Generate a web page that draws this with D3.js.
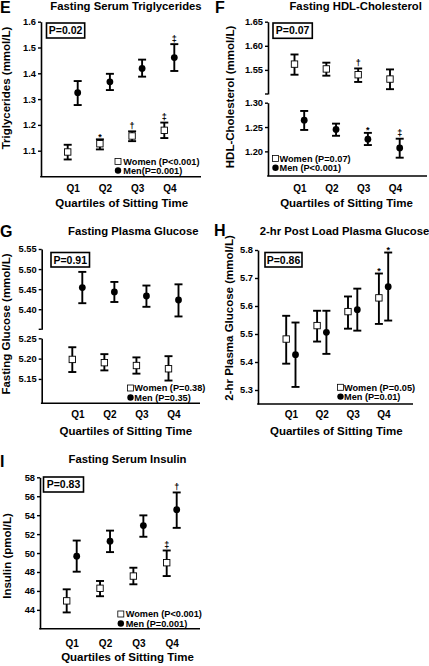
<!DOCTYPE html>
<html><head><meta charset="utf-8">
<script src="https://cdn.jsdelivr.net/npm/d3@7"></script>
<style>
html,body{margin:0;padding:0;background:#fff;}
svg{display:block;font-family:"Liberation Sans",Arial,Helvetica,sans-serif;font-weight:bold;}
</style></head>
<body><svg id="chart" width="429" height="666"></svg>
<script>
const quartiles = ["Q1","Q2","Q3","Q4"];
const xTitle = "Quartiles of Sitting Time";

// E: Fasting Serum Triglycerides
const tgWomen   = [1.095, 1.127, 1.157, 1.179];
const tgWomenLo = [1.066, 1.105, 1.137, 1.149];
const tgWomenHi = [1.123, 1.144, 1.175, 1.209];
const tgMen     = [1.325, 1.367, 1.419, 1.461];
const tgMenLo   = [1.277, 1.335, 1.387, 1.409];
const tgMenHi   = [1.370, 1.398, 1.453, 1.513];
const tgWomenSig = ["", "*", "†", "‡"];
const tgMenSig   = ["", "", "", "‡"];
const tgTicks = [1.1, 1.2, 1.3, 1.4, 1.5, 1.6];

// F: Fasting HDL-Cholesterol
const hdlWomen   = [1.562, 1.552, 1.540, 1.531];
const hdlWomenLo = [1.540, 1.538, 1.525, 1.510];
const hdlWomenHi = [1.582, 1.565, 1.553, 1.551];
const hdlMen     = [1.264, 1.245, 1.225, 1.207];
const hdlMenLo   = [1.244, 1.232, 1.213, 1.187];
const hdlMenHi   = [1.283, 1.257, 1.238, 1.226];
const hdlWomenSig = ["", "", "†", ""];
const hdlMenSig   = ["", "", "*", "‡"];
const hdlUpperTicks = [1.55, 1.60, 1.65];
const hdlLowerTicks = [1.20, 1.25, 1.30];

// G: Fasting Plasma Glucose
const glcWomen   = [5.198, 5.190, 5.183, 5.175];
const glcWomenLo = [5.167, 5.171, 5.163, 5.146];
const glcWomenHi = [5.228, 5.211, 5.203, 5.206];
const glcMen     = [5.454, 5.443, 5.433, 5.423];
const glcMenLo   = [5.415, 5.418, 5.406, 5.382];
const glcMenHi   = [5.493, 5.468, 5.459, 5.462];
const glcUpperTicks = [5.40, 5.45, 5.50, 5.55];
const glcLowerTicks = [5.15, 5.20, 5.25];

// H: 2-hr Post Load Plasma Glucose
const pgWomen   = [5.482, 5.530, 5.580, 5.629];
const pgWomenLo = [5.394, 5.473, 5.519, 5.536];
const pgWomenHi = [5.565, 5.583, 5.634, 5.716];
const pgMen     = [5.426, 5.506, 5.587, 5.669];
const pgMenLo   = [5.311, 5.429, 5.512, 5.548];
const pgMenHi   = [5.541, 5.583, 5.662, 5.791];
const pgWomenSig = ["", "", "", "*"];
const pgMenSig   = ["", "", "", "*"];
const pgTicks = [5.3, 5.4, 5.5, 5.6, 5.7, 5.8];

// I: Fasting Serum Insulin
const insWomen   = [44.95, 46.28, 47.57, 48.98];
const insWomenLo = [43.73, 45.44, 46.70, 47.57];
const insWomenHi = [46.17, 47.05, 48.45, 50.27];
const insMen     = [49.67, 51.25, 52.90, 54.58];
const insMenLo   = [48.03, 50.10, 51.72, 52.66];
const insMenHi   = [51.32, 52.37, 53.98, 56.40];
const insWomenSig = ["", "", "", "‡"];
const insMenSig   = ["", "", "", "†"];
const insTicks = [44, 46, 48, 50, 52, 54, 56, 58];

const none4 = ["", "", "", ""];

const panels = [
  { letter:"E", lx:0, ly:12.5, title:"Fasting Serum Triglycerides", tx:126, ty:10,
    yTitle:"Triglycerides (mmol/L)", ytx:10, yty:88,
    axisX:41, rightX:201, baseY:176.8, xRange:[72.7,169.3], qY:191.5, xtY:206.7, xtX:121.7,
    segs:[{domain:[1.0,1.6], range:[176.5,21.7], ticks:tgTicks, fmt:".1f"}],
    pText:"P=0.02", pBox:[46.5,23,38.2,15],
    legend:{x:118, y1:161.5, y2:170.5, tx:123.3, women:"Women (P<0.001)", men:"Men(P=0.001)"},
    series:[
      {v:tgWomen, lo:tgWomenLo, hi:tgWomenHi, sig:tgWomenSig, seg:0, dx:-5, shape:"sq"},
      {v:tgMen, lo:tgMenLo, hi:tgMenHi, sig:tgMenSig, seg:0, dx:5, shape:"ci"}]},
  { letter:"F", lx:215, ly:12.5, title:"Fasting HDL-Cholesterol", tx:355.7, ty:10,
    yTitle:"HDL-Cholesterol (mmol/L)", ytx:234, yty:97,
    axisX:268, rightX:427, baseY:176, xRange:[299.5,395], qY:191.5, xtY:206.7, xtX:346.5,
    segs:[{domain:[1.50,1.65], range:[94,21.7], ticks:hdlUpperTicks, fmt:".2f", brk:true},
          {domain:[1.15,1.30], range:[175.7,102.7], ticks:hdlLowerTicks, fmt:".2f"}],
    pText:"P=0.07", pBox:[273,23,39.3,15.3],
    legend:{x:275.5, y1:158.5, y2:167.8, tx:279.5, women:"Women (P=0.07)", men:"Men (P<0.001)"},
    series:[
      {v:hdlWomen, lo:hdlWomenLo, hi:hdlWomenHi, sig:hdlWomenSig, seg:0, dx:-5, shape:"sq"},
      {v:hdlMen, lo:hdlMenLo, hi:hdlMenHi, sig:hdlMenSig, seg:1, dx:4.7, shape:"ci"}]},
  { letter:"G", lx:0, ly:237, title:"Fasting Plasma Glucose", tx:133.3, ty:235,
    yTitle:"Fasting Glucose (mmol/L)", ytx:10, yty:324,
    axisX:41.7, rightX:200, baseY:403.3, xRange:[77.3,173.5], qY:418, xtY:435, xtX:125.8,
    segs:[{domain:[5.35,5.55], range:[329.3,249], ticks:glcUpperTicks, fmt:".2f", brk:true},
          {domain:[5.09,5.25], range:[403.3,338.3], ticks:glcLowerTicks, fmt:".2f"}],
    pText:"P=0.91", pBox:[51,252.5,38.5,14.5],
    legend:{x:130.5, y1:388, y2:397.5, tx:134.3, women:"Women (P=0.38)", men:"Men (P=0.35)"},
    series:[
      {v:glcWomen, lo:glcWomenLo, hi:glcWomenHi, sig:none4, seg:1, dx:-5, shape:"sq"},
      {v:glcMen, lo:glcMenLo, hi:glcMenHi, sig:none4, seg:0, dx:5, shape:"ci"}]},
  { letter:"H", lx:214, ly:236, title:"2-hr Post Load Plasma Glucose", tx:344.5, ty:235,
    yTitle:"2-hr Plasma Glucose (mmol/L)", ytx:232.5, yty:318,
    axisX:258, rightX:413, baseY:404, xRange:[290.8,383.5], qY:417.8, xtY:434.5, xtX:336.3,
    segs:[{domain:[5.25,5.8], range:[404,250], ticks:pgTicks, fmt:".1f"}],
    pText:"P=0.86", pBox:[265,252.5,37,14.5],
    legend:{x:340.5, y1:387.3, y2:396.6, tx:344, women:"Women (P=0.05)", men:"Men (P=0.01)"},
    series:[
      {v:pgWomen, lo:pgWomenLo, hi:pgWomenHi, sig:pgWomenSig, seg:0, dx:-4.6, shape:"sq"},
      {v:pgMen, lo:pgMenLo, hi:pgMenHi, sig:pgMenSig, seg:0, dx:4.7, shape:"ci"}]},
  { letter:"I", lx:0, ly:467, title:"Fasting Serum Insulin", tx:127.5, ty:463,
    yTitle:"Insulin (pmol/L)", ytx:11, yty:556,
    axisX:40, rightX:200, baseY:628.8, xRange:[71.7,171.7], qY:646.5, xtY:661, xtX:127.5,
    segs:[{domain:[42,58], range:[628.8,477.3], ticks:insTicks, fmt:"d"}],
    pText:"P=0.83", pBox:[43.5,477,40,15],
    legend:{x:120.8, y1:614, y2:623.5, tx:125.7, women:"Women (P<0.001)", men:"Men (P=0.001)"},
    series:[
      {v:insWomen, lo:insWomenLo, hi:insWomenHi, sig:insWomenSig, seg:0, dx:-5, shape:"sq"},
      {v:insMen, lo:insMenLo, hi:insMenHi, sig:insMenSig, seg:0, dx:5, shape:"ci"}]}
];

const svg = d3.select("#chart");

function drawPanel(c) {
  const g = svg.append("g");
  g.append("text").attr("x", c.lx).attr("y", c.ly).attr("font-size", 16).attr("fill","#000").text(c.letter);
  g.append("text").attr("x", c.tx).attr("y", c.ty).attr("text-anchor","middle")
    .attr("font-size", 11.3).attr("fill","#000").text(c.title);
  g.append("text").attr("transform", `translate(${c.ytx},${c.yty}) rotate(-90)`)
    .attr("text-anchor","middle").attr("font-size", 11.5).attr("fill","#000").text(c.yTitle);

  const x = d3.scalePoint().domain(quartiles).range(c.xRange);
  const ys = c.segs.map(s => d3.scaleLinear().domain(s.domain).range(s.range));

  c.segs.forEach((s, i) => {
    const ax = d3.axisLeft(ys[i]).tickValues(s.ticks).tickFormat(d3.format(s.fmt))
      .tickSize(3).tickSizeOuter(0).tickPadding(2);
    const ag = g.append("g").attr("transform", `translate(${c.axisX},0)`).call(ax);
    ag.select(".domain").attr("stroke","#000").attr("stroke-width",1.6);
    ag.selectAll(".tick line").attr("stroke","#000").attr("stroke-width",1.4);
    ag.selectAll(".tick text").attr("font-size",9.3).attr("font-family",null).attr("fill","#000");
    if (s.brk) {
      ag.append("line").attr("x1",-3).attr("x2",0)
        .attr("y1", ys[i](s.domain[0])).attr("y2", ys[i](s.domain[0]))
        .attr("stroke","#000").attr("stroke-width",1.4);
    }
  });

  g.append("line").attr("x1", c.axisX - 0.8).attr("x2", c.rightX)
    .attr("y1", c.baseY).attr("y2", c.baseY).attr("stroke","#000").attr("stroke-width",1.6);
  const xa = d3.axisBottom(x).tickSize(0).tickPadding(0);
  const xg = g.append("g").attr("transform", `translate(0,${c.qY})`).call(xa);
  xg.select(".domain").remove();
  xg.selectAll(".tick text").attr("font-size",10).attr("font-family",null)
    .attr("fill","#000").attr("dy",0);
  g.append("text").attr("x", c.xtX).attr("y", c.xtY).attr("text-anchor","middle")
    .attr("font-size", 11.5).attr("fill","#000").text(xTitle);

  const [bx, by, bw, bh] = c.pBox;
  g.append("rect").attr("x",bx).attr("y",by).attr("width",bw).attr("height",bh)
    .attr("fill","#fff").attr("stroke","#000").attr("stroke-width",1.6);
  g.append("text").attr("x", bx + bw/2).attr("y", by + bh/2 + 3.8).attr("text-anchor","middle")
    .attr("font-size",10.5).attr("fill","#000").text(c.pText);

  c.series.forEach(s => {
    const y = ys[s.seg];
    quartiles.forEach((q, i) => {
      const px = x(q) + s.dx;
      const yl = y(s.lo[i]), yh = y(s.hi[i]), yv = y(s.v[i]);
      g.append("line").attr("x1",px).attr("x2",px).attr("y1",yl).attr("y2",yh)
        .attr("stroke","#000").attr("stroke-width",1.9);
      [yl, yh].forEach(yy => g.append("line").attr("x1",px-4).attr("x2",px+4)
        .attr("y1",yy).attr("y2",yy).attr("stroke","#000").attr("stroke-width",1.9));
      if (s.shape === "sq") {
        g.append("rect").attr("x",px-3.2).attr("y",yv-3.2).attr("width",6.4).attr("height",6.4)
          .attr("fill","#fff").attr("stroke","#000").attr("stroke-width",0.9);
      } else {
        g.append("circle").attr("cx",px).attr("cy",yv).attr("r",3.4).attr("fill","#000");
      }
      const sg = s.sig[i];
      if (sg) {
        const off = sg === "*" ? 0.5 : -2.5;
        g.append("text").attr("x",px).attr("y",yh + off).attr("text-anchor","middle")
          .attr("font-size",9).attr("fill","#000").text(sg);
      }
    });
  });

  const L = c.legend;
  g.append("rect").attr("x",L.x-3).attr("y",L.y1-3).attr("width",6).attr("height",6)
    .attr("fill","#fff").attr("stroke","#000").attr("stroke-width",0.8);
  g.append("circle").attr("cx",L.x).attr("cy",L.y2).attr("r",3.2).attr("fill","#000");
  g.append("text").attr("x",L.tx).attr("y",L.y1+3.2).attr("font-size",9.2).attr("fill","#000").text(L.women);
  g.append("text").attr("x",L.tx).attr("y",L.y2+3.2).attr("font-size",9.2).attr("fill","#000").text(L.men);
}

panels.forEach(drawPanel);
</script>
</body></html>
